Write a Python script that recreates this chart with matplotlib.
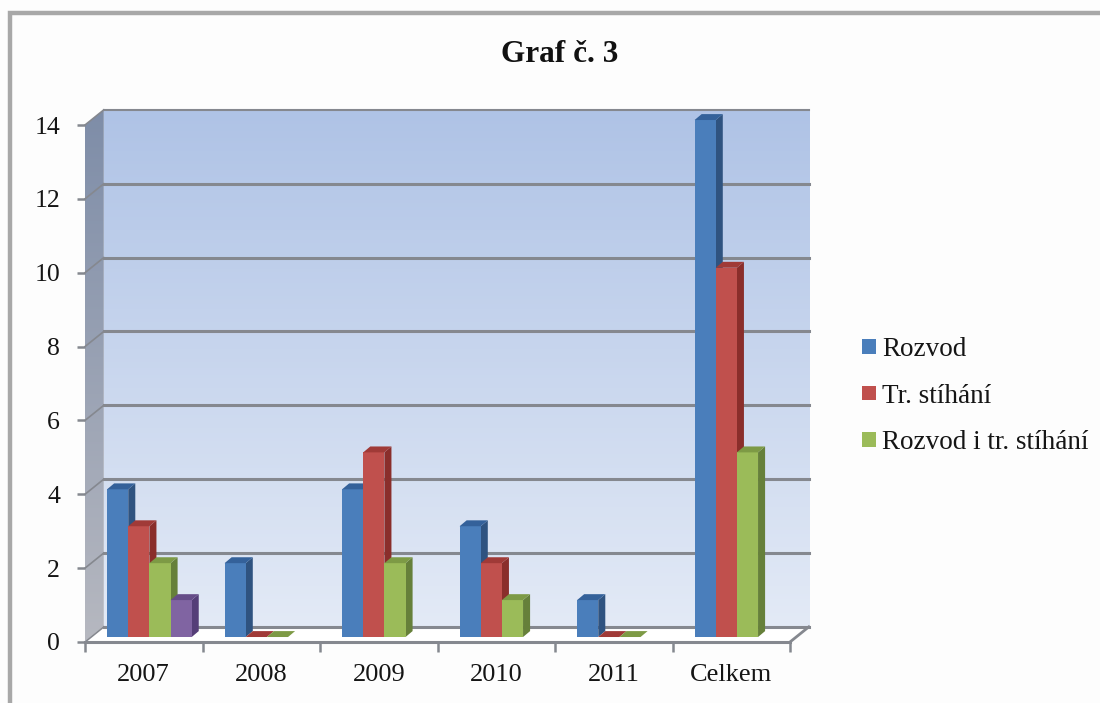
import numpy as np
from matplotlib import pyplot as plt
from matplotlib.colors import LinearSegmentedColormap
from matplotlib.lines import Line2D
from matplotlib.patches import Polygon

plt.rcParams["font.family"] = ["Liberation Serif", "DejaVu Serif"]

categories = ["2007", "2008", "2009", "2010", "2011", "Celkem"]
rozvod = [4, 2, 4, 3, 1, 14]
stihani = [3, 0, 5, 2, 0, 10]
oboji = [2, 0, 2, 1, 0, 5]
ostatni = [1, np.nan, np.nan, np.nan, np.nan, np.nan]  # purple one, not in the legend
series_names = ["Rozvod", "Tr. stíhání", "Rozvod i tr. stíhání", None]
y_ticks = [0, 2, 4, 6, 8, 10, 12, 14]

front_colors = ["#4A7EBB", "#C0504D", "#9BBB59", "#8064A2"]
side_colors = ["#2F5380", "#8A2E2B", "#66803A", "#553E78"]
top_colors = ["#34619A", "#A03A37", "#7D9A45", "#664D88"]
grid_color = "#85888F"
text_color = "#151515"

# depth of the fake 3d box, in data units
wall_dx = 0.16
wall_dy = 0.41
floor_dx = 0.043
floor_dy = 0.135
bar_dx = 0.06
bar_dy = 0.16
bar_w = 0.18
bar_start = 0.145

fig = plt.figure(figsize=(11, 7.03), dpi=100, facecolor="#FDFDFD")
ax = fig.add_axes([85 / 1100, 1 - 642 / 703, 705 / 1100, 517 / 703])
ax.patch.set_visible(False)

# back wall
wall_cmap = LinearSegmentedColormap.from_list("wall", ["#E3EAF6", "#AFC3E6"])
ax.imshow(np.linspace(1, 0, 256).reshape(-1, 1), cmap=wall_cmap, aspect="auto",
          extent=(wall_dx, 6 + wall_dx, wall_dy, 14 + wall_dy), zorder=1, clip_on=False)

# left wall
side_cmap = LinearSegmentedColormap.from_list("side", ["#B6B8C0", "#7E8DA8"])
im = ax.imshow(np.linspace(1, 0, 256).reshape(-1, 1), cmap=side_cmap, aspect="auto",
               extent=(0, wall_dx, 0, 14 + wall_dy), zorder=1)
side_wall = Polygon([(0, 0), (wall_dx, wall_dy), (wall_dx, 14 + wall_dy), (0, 14)],
                    transform=ax.transData, fill=False, edgecolor="none", clip_on=False)
ax.add_patch(side_wall)
im.set_clip_box(fig.bbox)
im.set_clip_path(side_wall)

# floor
ax.fill([0, 6, 6 + wall_dx, wall_dx], [0, 0, wall_dy, wall_dy], color="white", zorder=1.5, clip_on=False)
ax.plot([6, 6 + wall_dx], [0, wall_dy], color=grid_color, lw=2, zorder=2, clip_on=False)

# gridlines on both walls
for v in y_ticks:
    lw = 1.5 if v == 14 else 2.2
    ax.plot([wall_dx, 6 + wall_dx], [v + wall_dy, v + wall_dy], color=grid_color, lw=lw, zorder=2, clip_on=False)
    ax.plot([0, wall_dx], [v, v + wall_dy], color=grid_color, lw=1.2, zorder=2, clip_on=False)

x = np.arange(len(categories))
handles = []
all_series = [rozvod, stihani, oboji, ostatni]
for s, values in enumerate(all_series):
    left = x + bar_start + s * bar_w
    z = 3 + s
    bars = ax.bar(left + floor_dx, values, width=bar_w, bottom=floor_dy, align="edge",
                  color=front_colors[s], label=series_names[s], zorder=z + 0.5, clip_on=False)
    if series_names[s]:
        handles.append(bars)
    for xi, v in zip(left + floor_dx, values):
        if np.isnan(v):
            continue
        y0 = floor_dy
        y1 = floor_dy + v
        ax.fill([xi + bar_w, xi + bar_w + bar_dx, xi + bar_w + bar_dx, xi + bar_w],
                [y0, y0 + bar_dy, y1 + bar_dy, y1], color=side_colors[s], lw=0, zorder=z, clip_on=False)
        ax.fill([xi, xi + bar_w, xi + bar_w + bar_dx, xi + bar_dx],
                [y1, y1, y1 + bar_dy, y1 + bar_dy], color=top_colors[s], lw=0, zorder=z + 0.6, clip_on=False)

ax.set_xlim(0, 6)
ax.set_ylim(0, 14)

for name in ["top", "right", "left"]:
    ax.spines[name].set_visible(False)
ax.spines["bottom"].set_color(grid_color)
ax.spines["bottom"].set_linewidth(2.2)
ax.spines["bottom"].set_zorder(8)

ax.set_yticks(y_ticks)
ax.tick_params(axis="y", length=6, width=1.8, color=grid_color, labelsize=18.5,
               labelcolor=text_color, pad=12)
ax.set_xticks(np.arange(7))
ax.set_xticklabels([])
ax.set_xticks(x + 0.5, categories, minor=True)
ax.tick_params(axis="x", which="major", length=7, width=1.8, color=grid_color)
ax.tick_params(axis="x", which="minor", length=0, labelsize=19, labelcolor=text_color, pad=16)

fig.text(560 / 1100, 1 - 55 / 703, "Graf č. 3", ha="center", va="center",
         fontsize=22.5, fontweight="bold", color="#111111")

ax.legend(handles=handles, loc="upper left", bbox_to_anchor=(862 / 1100, 1 - 337 / 703),
          bbox_transform=fig.transFigure, frameon=False, fontsize=19.5, labelcolor=text_color,
          handlelength=0.52, handleheight=0.45, handletextpad=0.22, labelspacing=0.8,
          borderpad=0, borderaxespad=0)

# grey frame of the pasted picture
frame = Line2D([9.5 / 1100, 9.5 / 1100, 1], [0, 1 - 13 / 703, 1 - 13 / 703], transform=fig.transFigure,
               color="#A8A8A8", lw=3.2, solid_joinstyle="miter")
fig.add_artist(frame)

fig.savefig("out.png", dpi=100, facecolor=fig.get_facecolor())
